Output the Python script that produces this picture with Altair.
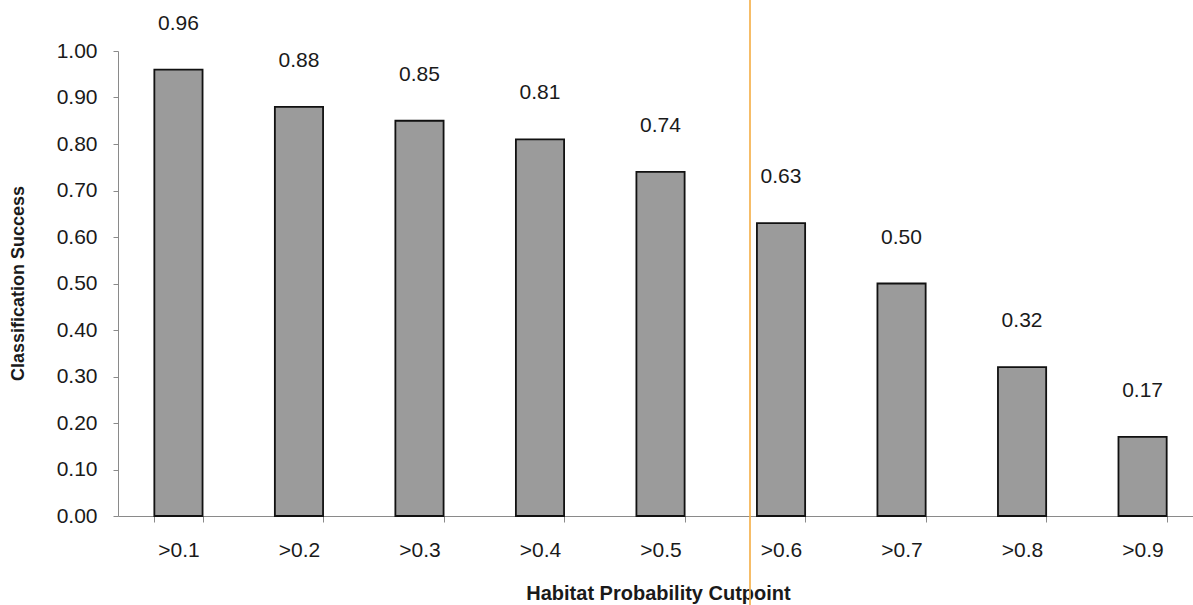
import altair as alt
import pandas as pd

# Classification success by habitat probability cutpoint
cutpoints = [">0.1", ">0.2", ">0.3", ">0.4", ">0.5", ">0.6", ">0.7", ">0.8", ">0.9"]
success = [0.96, 0.88, 0.85, 0.81, 0.74, 0.63, 0.50, 0.32, 0.17]
y_ticks = [0.0, 0.1, 0.2, 0.3, 0.4, 0.5, 0.6, 0.7, 0.8, 0.9, 1.0]

df = pd.DataFrame({"cutpoint": cutpoints, "success": success})

FONT = "Liberation Sans"
INK = "#1a1a1a"
AXIS_GRAY = "#8a8a8a"

x_enc = alt.X(
    "cutpoint:N",
    sort=cutpoints,
    scale=alt.Scale(paddingInner=0.6, paddingOuter=0.26, align=0.58),
    axis=alt.Axis(
        title="Habitat Probability Cutpoint",
        labelAngle=0,
        tickBand="extent",
        tickSize=6,
        labelPadding=17,
        domainColor=AXIS_GRAY,
        tickColor=AXIS_GRAY,
        labelFont=FONT,
        labelFontSize=21,
        labelColor=INK,
        titleFont=FONT,
        titleFontSize=20,
        titleFontWeight="bold",
        titleColor=INK,
        titleX=540,
        titleY=77,
        titleAlign="center",
        titleBaseline="middle",
    ),
)

y_enc = alt.Y(
    "success:Q",
    scale=alt.Scale(domain=[0, 1]),
    axis=alt.Axis(
        title="Classification Success",
        values=y_ticks,
        format=".2f",
        grid=False,
        tickSize=5,
        labelPadding=16,
        domainColor=AXIS_GRAY,
        tickColor=AXIS_GRAY,
        labelFont=FONT,
        labelFontSize=21,
        labelColor=INK,
        titleFont=FONT,
        titleFontSize=18,
        titleFontWeight="bold",
        titleColor=INK,
        titleX=-100,
        titleY=232,
        titleAlign="center",
        titleBaseline="middle",
    ),
)

base = alt.Chart(df)

bars = base.mark_bar(fill="#9b9b9b", stroke="#111111", strokeWidth=1.8).encode(
    x=x_enc, y=y_enc
)

labels = base.mark_text(
    dy=-46, fontSize=21, font=FONT, color=INK, baseline="middle", align="center"
).encode(
    x=alt.X("cutpoint:N", sort=cutpoints),
    y=alt.Y("success:Q"),
    text=alt.Text("success:Q", format=".2f"),
)

# thin orange crease running down the page
crease = alt.Chart(pd.DataFrame({"k": [0]})).mark_rule(
    color="#f4b24e", strokeWidth=2, opacity=0.85
).encode(x=alt.value(632), y=alt.value(-51), y2=alt.value(554))

chart = (
    alt.layer(bars, labels, crease)
    .properties(
        width=1075,
        height=465,
        autosize=alt.AutoSizeParams(type="none"),
        padding={"left": 118, "top": 51, "right": 0, "bottom": 89},
        background="white",
    )
    .configure_view(stroke=None)
)

chart.save("out.html", embed_options={"renderer": "svg", "actions": False})
